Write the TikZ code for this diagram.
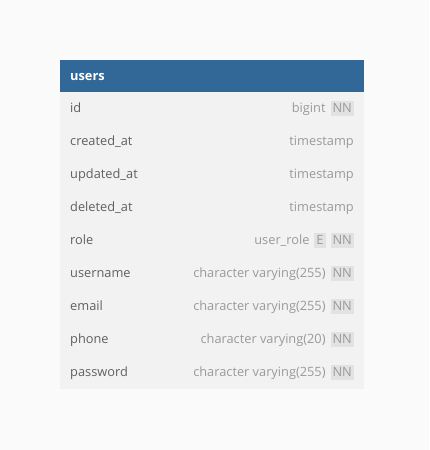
\documentclass[tikz,border=0pt]{standalone}
\usepackage{fontspec}
\setmainfont{Open Sans}
\usetikzlibrary{positioning}

\definecolor{headblue}{HTML}{316897}
\definecolor{bodygray}{HTML}{F2F2F2}
\definecolor{pagegray}{HTML}{FAFAFA}
\definecolor{namegray}{HTML}{606060}
\definecolor{typegray}{HTML}{9A9A9A}
\definecolor{badgegray}{HTML}{E2E2E2}

\begin{document}
\begin{tikzpicture}[x=1pt,y=1pt,node distance=4.5pt,
                    font=\fontsize{12.8}{15}\selectfont]
  \tikzstyle{colname}=[anchor=base west,text=namegray,inner sep=0pt]
  \tikzstyle{coltype}=[anchor=base east,text=typegray,inner sep=0pt]
  \tikzstyle{badge}=[fill=badgegray,text=typegray,inner xsep=2pt,inner ysep=2pt,
                     text height=9.5pt,text depth=1.5pt]

  \fill[pagegray] (0,0) rectangle (429,450);
  \useasboundingbox (0,0) rectangle (429,450);

  % table
  \fill[bodygray] (60,358) rectangle (364,61);
  \fill[headblue] (60,390) rectangle (364,358);
  \node[anchor=base west,text=white,inner sep=0pt,font=\fontsize{12.8}{15}\selectfont\bfseries]
       (users) at (70,369) {users};

  % columns
  \node[colname] (id)        at (70,337) {id};
  \node[colname] (created)   at (70,304) {created\_at};
  \node[colname] (updated)   at (70,271) {updated\_at};
  \node[colname] (deleted)   at (70,238) {deleted\_at};
  \node[colname] (role)      at (70,205) {role};
  \node[colname] (username)  at (70,172) {username};
  \node[colname] (email)     at (70,139) {email};
  \node[colname] (phone)     at (70,106) {phone};
  \node[colname] (password)  at (70,73)  {password};

  % types
  \node[badge,anchor=base east] (idNN) at (354,337) {NN};
  \node[coltype] (idT) [left=of idNN.base west,anchor=base east] {bigint};
  \node[coltype] (createdT) at (354,304) {timestamp};
  \node[coltype] (updatedT) at (354,271) {timestamp};
  \node[coltype] (deletedT) at (354,238) {timestamp};
  \node[badge,anchor=base east] (roleNN) at (354,205) {NN};
  \node[badge] (roleE) [left=of roleNN.base west,anchor=base east] {E};
  \node[coltype] (roleT) [left=of roleE.base west,anchor=base east] {user\_role};
  \node[badge,anchor=base east] (usernameNN) at (354,172) {NN};
  \node[coltype] (usernameT) [left=of usernameNN.base west,anchor=base east] {character varying(255)};
  \node[badge,anchor=base east] (emailNN) at (354,139) {NN};
  \node[coltype] (emailT) [left=of emailNN.base west,anchor=base east] {character varying(255)};
  \node[badge,anchor=base east] (phoneNN) at (354,106) {NN};
  \node[coltype] (phoneT) [left=of phoneNN.base west,anchor=base east] {character varying(20)};
  \node[badge,anchor=base east] (passwordNN) at (354,73) {NN};
  \node[coltype] (passwordT) [left=of passwordNN.base west,anchor=base east] {character varying(255)};
\end{tikzpicture}
\end{document}
